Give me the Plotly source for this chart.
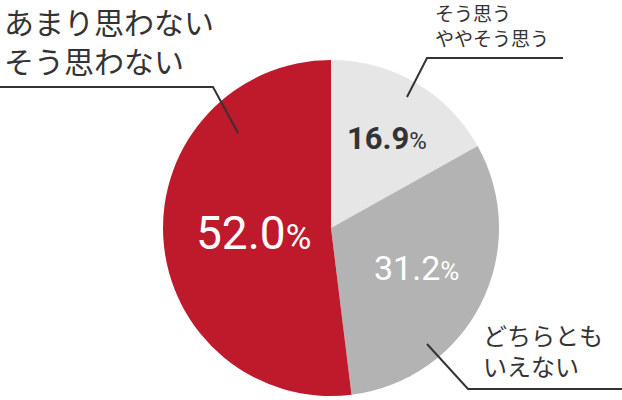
import plotly.graph_objects as go

categories = ["そう思う<br>ややそう思う", "どちらとも<br>いえない", "あまり思わない<br>そう思わない"]
values = [16.9, 31.2, 52.0]
colors = ["#e6e6e6", "#b3b3b3", "#be1a2b"]

W, H = 622, 400
fig = go.Figure()

fig.add_trace(go.Pie(
    labels=categories, values=values, sort=False, direction="clockwise", rotation=0,
    marker=dict(colors=colors, line=dict(width=0)),
    textinfo="none", hoverinfo="skip", showlegend=False,
    domain=dict(x=[(331 - 168) / W, (331 + 168) / W], y=[1 - 396 / H, 1 - 60 / H]),
))

# invisible pixel axis for overlay positioning
fig.update_xaxes(range=[0, W], visible=False, domain=[0, 1])
fig.update_yaxes(range=[H, 0], visible=False, domain=[0, 1])
fig.add_trace(go.Scatter(x=[None], y=[None], showlegend=False, hoverinfo="skip"))

# value labels
pct_styles = [
    dict(x=387, y=138, size=31, pct=24, color="#333333", weight=700),
    dict(x=416, y=268, size=34, pct=26, color="#ffffff", weight=400),
    dict(x=253, y=233, size=46, pct=35, color="#ffffff", weight=400),
]
for v, s in zip(values, pct_styles):
    fig.add_annotation(
        x=s["x"], y=s["y"], xref="x", yref="y", showarrow=False,
        text=f"{v:.1f}<span style='font-size:{s['pct']}px;font-weight:400'>%</span>",
        font=dict(family="Roboto", size=s["size"], color=s["color"], weight=s["weight"]),
        xanchor="center", yanchor="middle",
    )

# category labels
cat_styles = [
    dict(x=433, y=25, size=19),
    dict(x=481, y=350, size=24),
    dict(x=2, y=40, size=30),
]
for c, s in zip(categories, cat_styles):
    fig.add_annotation(
        x=s["x"], y=s["y"], xref="x", yref="y", showarrow=False, text=c,
        font=dict(family="Noto Sans CJK JP", size=s["size"], color="#333333"),
        xanchor="left", yanchor="middle", align="left",
    )

# leader lines
leaders = [
    [(407, 97), (427, 58), (563, 58)],
    [(427, 344), (468, 389), (622, 389)],
    [(238, 133), (213, 87), (0, 87)],
]
for pts in leaders:
    path = "M " + " L ".join(f"{x},{y}" for x, y in pts)
    fig.add_shape(type="path", path=path, xref="x", yref="y",
                  line=dict(color="#333333", width=2))

fig.update_layout(
    width=W, height=H, margin=dict(l=0, r=0, t=0, b=0),
    paper_bgcolor="white", plot_bgcolor="rgba(0,0,0,0)",
)
fig.write_html("out.html", config={"displayModeBar": False},
               post_script="document.body.style.margin='0';")
